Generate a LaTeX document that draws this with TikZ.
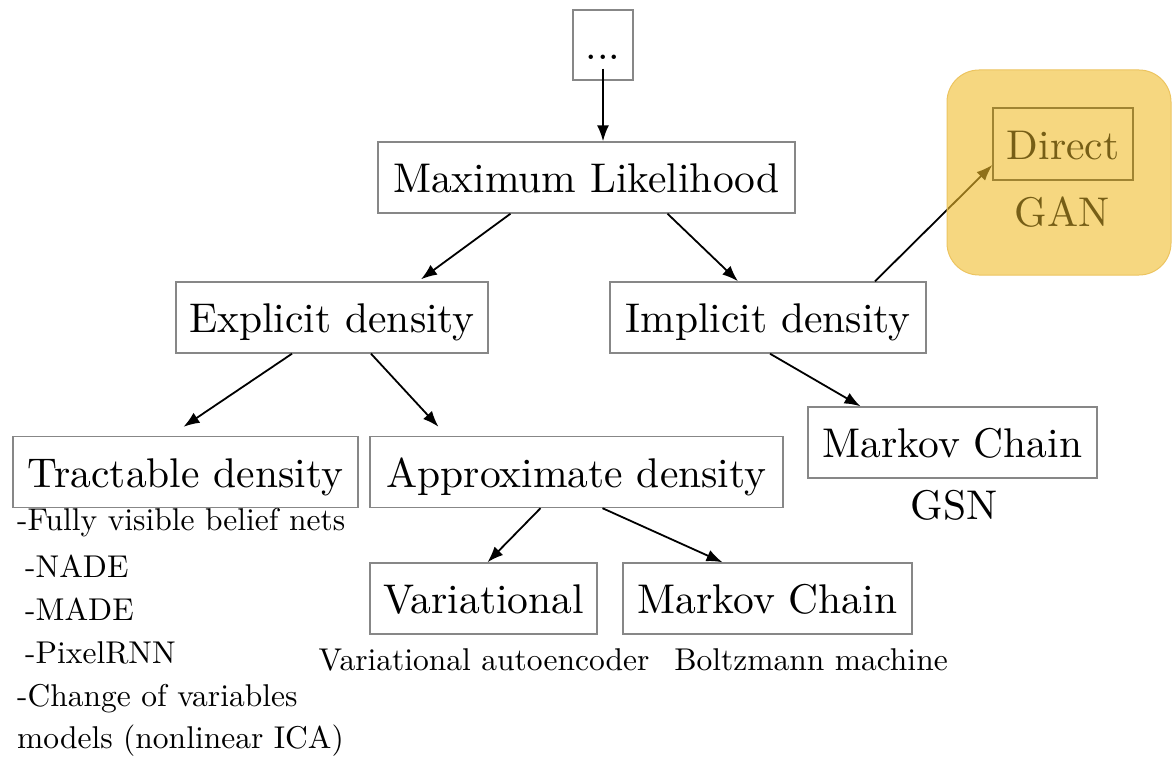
\documentclass[tikz,border=0pt]{standalone}
\usepackage{fontspec}
\setmainfont{lmroman10-regular.otf}
\usetikzlibrary{arrows.meta,calc}
\pgfdeclarelayer{overlay}
\pgfdeclarelayer{fg}
\pgfsetlayers{main,overlay,fg}
\definecolor{boxgray}{RGB}{135,135,135}
\definecolor{ganfill}{RGB}{240,188,43}
\definecolor{ganedge}{RGB}{236,196,96}
\definecolor{olivetext}{RGB}{118,94,22}
\definecolor{oliveedge}{RGB}{160,132,50}
\begin{document}
\begin{tikzpicture}[x=1pt,y=-1pt,
  bigfont/.style={font=\fontsize{41.5}{48}\selectfont},
  smallfont/.style={font=\fontsize{31.5}{38}\selectfont},
  box/.style={draw=boxgray,line width=1.4pt,bigfont,text height=30pt,text depth=0pt,minimum height=71pt,inner sep=0pt},
  conn/.style={line width=1.8pt,-{Latex[length=16pt,width=12pt]}},
  listline/.style={smallfont,anchor=base west,inner sep=0pt},
  caption/.style={smallfont,anchor=base,inner sep=0pt}
]
\useasboundingbox (0,0) rectangle (1172,757);
% nodes
\node[box,minimum width=60pt,minimum height=70pt] (dots) at (603,45) {...};
\node[box,minimum width=417pt] (ml) at (586.5,177.5) {Maximum Likelihood};
\node[box,minimum width=312pt] (expl) at (332,317.5) {Explicit density};
\node[box,minimum width=316pt] (impl) at (768,317.5) {Implicit density};
\node[box,minimum width=345pt] (tract) at (185.5,472) {Tractable density};
\node[box,minimum width=413pt] (approx) at (576.5,472) {Approximate density};
\node[box,minimum width=289pt] (mcr) at (952.5,442.5) {Markov Chain};
\node[box,minimum width=227pt] (var) at (483.5,598.5) {Variational};
\node[box,minimum width=289pt] (mcb) at (767.5,598.5) {Markov Chain};
\node[bigfont,anchor=base,inner sep=0pt] (gsn) at (954,519) {GSN};
% list under tractable density
\node[listline] (l1) at (17,530) {-Fully visible belief nets};
\node[listline] (l2) at (25,577) {-NADE};
\node[listline] (l3) at (25,620) {-MADE};
\node[listline] (l4) at (25,663) {-PixelRNN};
\node[listline] (l5) at (17,706) {-Change of variables};
\node[listline] (l6) at (17,748) {models (nonlinear ICA)};
\node[caption] (vae) at (484,670) {Variational autoencoder};
\node[caption] (boltz) at (811,670) {Boltzmann machine};
% GAN group
\begin{pgfonlayer}{fg}
\node[box,draw=oliveedge,text=olivetext,minimum width=140pt,minimum height=72pt] (direct) at (1063,144) {Direct};
\node[bigfont,anchor=base,inner sep=0pt,text=olivetext] (gan) at (1062,226) {GAN};
\end{pgfonlayer}
\begin{pgfonlayer}{overlay}
\node[draw=ganedge,line width=1pt,fill=ganfill,fill opacity=0.6,rounded corners=32pt,minimum width=224pt,minimum height=205pt,inner sep=0pt] (ganbox) at (1059,172.5) {};
\end{pgfonlayer}
% connectors
\draw[conn] ([yshift=12pt]dots.south) -- (dots.south |- ml.north);
\draw[conn] ([xshift=-76pt]ml.south) -- ([xshift=89pt,yshift=2pt]expl.north);
\draw[conn] ([xshift=81pt]ml.south) -- ([xshift=-30pt]impl.north);
\draw[conn] ([xshift=107pt]impl.north) -- ([yshift=-21pt]direct.west);
\draw[conn] ([xshift=-40pt]expl.south) -- ([xshift=-2pt,yshift=9pt]tract.north);
\draw[conn] ([xshift=39pt]expl.south) -- ([xshift=-138pt,yshift=9pt]approx.north);
\draw[conn] ([xshift=2pt]impl.south) -- ([xshift=-92pt]mcr.north);
\draw[conn] ([xshift=-36pt]approx.south) -- ([xshift=4pt]var.north);
\draw[conn] ([xshift=26pt]approx.south) -- ([xshift=-45pt]mcb.north);
\end{tikzpicture}
\end{document}
